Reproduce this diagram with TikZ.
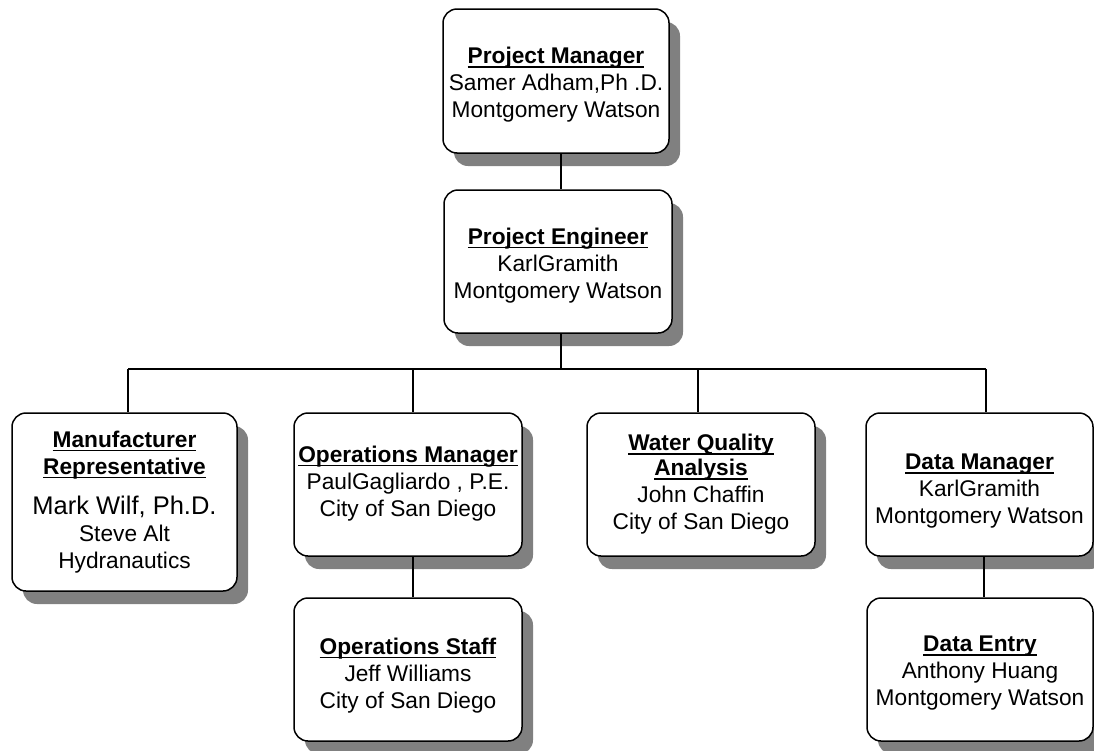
\documentclass[tikz,border=0pt]{standalone}
\usepackage{fontspec}
\setmainfont{Liberation Sans}
\usetikzlibrary{shadows}
\newcommand\ulbox[1]{\setbox0\hbox{#1}\rlap{\rule[-4pt]{\wd0}{1.8pt}}\box0}
\newcommand\hd[1]{\ulbox{\textbf{#1}}}
\tikzset{
  orgbox/.style={draw, line width=1.5pt, rounded corners=14pt, fill=white,
    minimum width=227pt, minimum height=143pt, inner sep=0pt,
    drop shadow={shadow xshift=11pt, shadow yshift=-13pt, fill=black!50, opacity=1}},
  txt/.style={align=center, inner sep=0pt, font=\fontsize{22.7}{27}\selectfont},
  link/.style={line width=1.3pt}
}
\begin{document}
\begin{tikzpicture}[x=1pt,y=-1pt]
\useasboundingbox (0,0) rectangle (1094,750);
\node[orgbox, minimum width=226pt, minimum height=144pt] (pm) at (556,81) {};
\node[txt, yshift=-4pt] (pmt) at (pm.center)
  {\hd{Project Manager}\\ Samer Adham,Ph .D.\\ Montgomery Watson};
\node[orgbox, minimum width=228pt] (pe) at (558,261.5) {};
\node[txt, yshift=-4pt] (pet) at (pe.center)
  {\hd{Project Engineer}\\ KarlGramith\\ Montgomery Watson};
\node[orgbox, minimum width=225pt, minimum height=178pt] (mfr) at (124.5,502) {};
\node[txt] (mfrt) at (mfr.center)
  {\hd{Manufacturer}\\ \hd{Representative}\\[13pt]
   {\fontsize{25.5}{30}\selectfont Mark Wilf, Ph.D.}\\ Steve Alt\\ Hydranautics};
\node[orgbox, minimum width=228pt] (om) at (408,484.5) {};
\node[txt, yshift=1pt] (omt) at (om.center)
  {\hd{Operations Manager}\\ PaulGagliardo , P.E.\\ City of San Diego};
\node[orgbox, minimum width=228pt] (wq) at (701,484.5) {};
\node[txt] (wqt) at (wq.center)
  {\hd{Water Quality}\\[-2pt] \hd{Analysis}\\ John Chaffin\\ City of San Diego};
\node[orgbox] (dm) at (979.5,484.5) {};
\node[txt, yshift=-7pt] (dmt) at (dm.center)
  {\hd{Data Manager}\\ KarlGramith\\ Montgomery Watson};
\node[orgbox, minimum width=228pt] (os) at (408,669.5) {};
\node[txt, yshift=-6pt] (ost) at (os.center)
  {\hd{Operations Staff}\\ Jeff Williams\\ City of San Diego};
\node[orgbox, minimum width=226pt] (de) at (980,669.5) {};
\node[txt, yshift=-4pt] (det) at (de.center)
  {\hd{Data Entry}\\ Anthony Huang\\ Montgomery Watson};
% connectors
\coordinate (busL) at (128,369);
\coordinate (busR) at (986,369);
\draw[link] ([xshift=5pt]pm.south) -- ([xshift=5pt]pm.south |- pe.north);
\draw[link] ([xshift=3pt]pe.south) -- ([xshift=3pt]pe.south |- busL);
\draw[link] (busL) -- (busR);
\draw[link] (busL) -- (busL |- mfr.north);
\draw[link] ([xshift=5pt]om.north |- busL) -- ([xshift=5pt]om.north);
\draw[link] ([xshift=-3pt]wq.north |- busL) -- ([xshift=-3pt]wq.north);
\draw[link] (busR) -- (busR |- dm.north);
\draw[link] ([xshift=5pt]om.south) -- ([xshift=5pt]om.south |- os.north);
\draw[link] ([xshift=4.5pt]dm.south) -- ([xshift=4.5pt]dm.south |- de.north);
\end{tikzpicture}
\end{document}
